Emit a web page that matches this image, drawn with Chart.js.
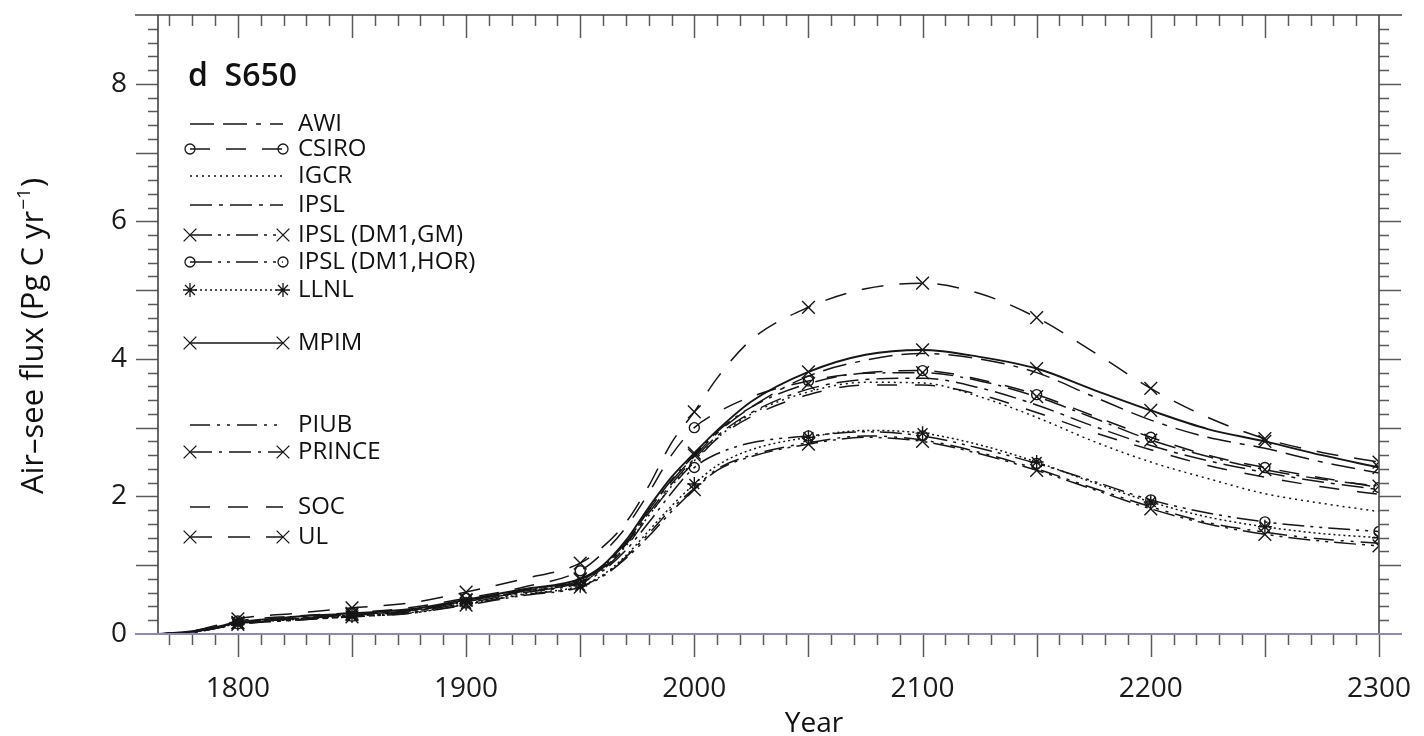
<!DOCTYPE html>
<html>
<head>
<meta charset="utf-8">
<script src="https://cdn.jsdelivr.net/npm/chart.js@4.4.1/dist/chart.umd.min.js"></script>
<style>
  html, body { margin: 0; padding: 0; background: #fff; }
  #wrap { width: 1424px; height: 736px; }
</style>
</head>
<body>
<div id="wrap"><canvas id="chart"></canvas></div>
<script>
// Air-sea CO2 flux, scenario S650, one line per ocean model
const years = [1765, 1780, 1790, 1800, 1825, 1850, 1875, 1900, 1925, 1950, 1960, 1970, 1980, 1990,
  2000, 2010, 2025, 2050, 2075, 2100, 2125, 2150, 2175, 2200, 2225, 2250, 2275, 2300];

const awi     = [0, 0.03, 0.09, 0.16, 0.23, 0.28, 0.34, 0.48, 0.63, 0.78, 0.98, 1.32, 1.80, 2.22, 2.58, 2.92, 3.30, 3.75, 3.98, 4.08, 4.00, 3.80, 3.45, 3.11, 2.86, 2.70, 2.50, 2.34];
const csiro   = [0, 0.04, 0.11, 0.19, 0.26, 0.31, 0.38, 0.52, 0.68, 0.92, 1.18, 1.55, 2.05, 2.60, 3.00, 3.22, 3.45, 3.68, 3.80, 3.83, 3.70, 3.48, 3.17, 2.86, 2.60, 2.42, 2.27, 2.13];
const igcr    = [0, 0.03, 0.09, 0.16, 0.22, 0.27, 0.33, 0.47, 0.62, 0.76, 0.95, 1.28, 1.72, 2.15, 2.52, 2.85, 3.20, 3.52, 3.66, 3.65, 3.45, 3.15, 2.80, 2.50, 2.26, 2.04, 1.90, 1.78];
const ipsl    = [0, 0.03, 0.09, 0.16, 0.22, 0.28, 0.34, 0.48, 0.62, 0.76, 0.96, 1.30, 1.76, 2.18, 2.55, 2.88, 3.22, 3.56, 3.70, 3.72, 3.58, 3.33, 3.02, 2.74, 2.52, 2.35, 2.21, 2.10];
const ipslGM  = [0, 0.02, 0.08, 0.14, 0.20, 0.25, 0.30, 0.42, 0.56, 0.68, 0.84, 1.10, 1.42, 1.78, 2.10, 2.38, 2.58, 2.76, 2.86, 2.80, 2.62, 2.38, 2.10, 1.82, 1.60, 1.45, 1.35, 1.28];
const ipslHOR = [0, 0.03, 0.09, 0.15, 0.21, 0.26, 0.32, 0.45, 0.60, 0.74, 0.92, 1.22, 1.62, 2.05, 2.42, 2.62, 2.78, 2.88, 2.94, 2.88, 2.70, 2.48, 2.22, 1.95, 1.76, 1.63, 1.55, 1.49];
const llnl    = [0, 0.03, 0.08, 0.15, 0.21, 0.26, 0.31, 0.44, 0.58, 0.70, 0.86, 1.14, 1.50, 1.86, 2.18, 2.45, 2.68, 2.86, 2.96, 2.92, 2.75, 2.50, 2.20, 1.92, 1.70, 1.56, 1.46, 1.40];
const mpim    = [0, 0.04, 0.10, 0.17, 0.25, 0.30, 0.36, 0.50, 0.65, 0.80, 1.00, 1.36, 1.84, 2.28, 2.63, 2.96, 3.38, 3.81, 4.06, 4.13, 4.03, 3.86, 3.55, 3.25, 2.98, 2.80, 2.60, 2.42];
const piub    = [0, 0.02, 0.08, 0.14, 0.20, 0.25, 0.30, 0.43, 0.57, 0.69, 0.85, 1.12, 1.46, 1.82, 2.12, 2.40, 2.60, 2.78, 2.88, 2.82, 2.64, 2.40, 2.12, 1.85, 1.62, 1.48, 1.38, 1.32];
const prince  = [0, 0.03, 0.09, 0.16, 0.23, 0.28, 0.34, 0.49, 0.64, 0.79, 0.99, 1.33, 1.80, 2.24, 2.60, 2.94, 3.30, 3.64, 3.79, 3.80, 3.68, 3.45, 3.14, 2.82, 2.58, 2.39, 2.25, 2.15];
const soc     = [0, 0.03, 0.09, 0.15, 0.22, 0.27, 0.33, 0.47, 0.61, 0.75, 0.94, 1.26, 1.72, 2.14, 2.50, 2.84, 3.16, 3.48, 3.62, 3.62, 3.48, 3.22, 2.93, 2.68, 2.45, 2.28, 2.14, 2.03];
const ul      = [0, 0.04, 0.12, 0.22, 0.30, 0.38, 0.45, 0.61, 0.80, 1.03, 1.27, 1.62, 2.15, 2.78, 3.23, 3.72, 4.28, 4.75, 5.02, 5.10, 4.95, 4.60, 4.10, 3.57, 3.15, 2.84, 2.64, 2.50];

const modelNames = ['AWI', 'CSIRO', 'IGCR', 'IPSL', 'IPSL (DM1,GM)', 'IPSL (DM1,HOR)', 'LLNL',
  'MPIM', 'PIUB', 'PRINCE', 'SOC', 'UL'];
const modelValues = [awi, csiro, igcr, ipsl, ipslGM, ipslHOR, llnl, mpim, piub, prince, soc, ul];

const xLabelYears = [1800, 1900, 2000, 2100, 2200, 2300];
const yLabelValues = [0, 2, 4, 6, 8];
const markerYears = [1800, 1850, 1900, 1950, 2000, 2050, 2100, 2150, 2200, 2250, 2300];

// line style per model, same order as modelNames
const lineStyles = [
  { dash: [24, 9, 24, 9, 5, 9] },
  { dash: [20, 16], marker: 'circle', size: 5 },
  { dash: [2, 4] },
  { dash: [22, 7, 4, 7] },
  { dash: [22, 6, 3, 6, 3, 6], marker: 'crossRot', size: 9 },
  { dash: [22, 6, 3, 6, 3, 6], marker: 'circle', size: 5 },
  { dash: [2, 3], marker: 'star', size: 7 },
  { dash: [], marker: 'crossRot', size: 9, width: 1.9 },
  { dash: [20, 7, 3, 7, 3, 7] },
  { dash: [22, 7, 3, 7], marker: 'crossRot', size: 9 },
  { dash: [20, 18] },
  { dash: [22, 16], marker: 'crossRot', size: 9 },
];
const legendRowY = [124, 149, 176, 205, 235, 262, 290, 343, 425, 452, 507, 537];

const ink = '#161616';
const font = '"Open Sans", "Noto Sans", sans-serif';

const datasets = modelNames.map((name, i) => {
  const st = lineStyles[i];
  return {
    label: name,
    data: years.map((yr, j) => ({ x: yr, y: modelValues[i][j] })),
    borderColor: ink,
    borderWidth: st.width || 1.5,
    borderDash: st.dash,
    pointStyle: st.marker || 'circle',
    pointRadius: (c) => (st.marker && markerYears.includes(years[c.dataIndex])) ? st.size : 0,
    pointHoverRadius: 0,
    pointBorderColor: ink,
    pointBackgroundColor: 'rgba(0,0,0,0)',
    pointBorderWidth: 1.4,
    cubicInterpolationMode: 'monotone',
    fill: false,
  };
});

function seg(ctx, x1, y1, x2, y2) {
  ctx.beginPath();
  ctx.moveTo(x1, y1);
  ctx.lineTo(x2, y2);
  ctx.stroke();
}

// fixed box size for an axis, without the label overhang padding
function fixBox(size) {
  return (s) => {
    if (s.isHorizontal()) s.height = size; else s.width = size;
    s.paddingLeft = s.paddingRight = s.paddingTop = s.paddingBottom = 0;
  };
}

// frame, tick marks, titles and the line legend
const decorations = {
  id: 'decorations',
  afterDraw(chart) {
    const { ctx, chartArea: a } = chart;
    const xs = chart.scales.x, ys = chart.scales.y;
    ctx.save();
    ctx.setLineDash([]);
    ctx.strokeStyle = '#5a5a5a';
    ctx.lineWidth = 1.5;
    for (let yr = 1770; yr <= 2300; yr += 10) {
      const px = Math.round(xs.getPixelForValue(yr)) + 0.5;
      const len = yr % 50 === 0 ? 23 : 11;
      seg(ctx, px, a.bottom, px, a.bottom + len);
      if (yr < 2300) seg(ctx, px, a.top, px, a.top + len);
    }
    for (let k = 1; k < 45; k++) {
      const py = Math.round(ys.getPixelForValue(k / 5)) + 0.5;
      const len = k % 5 === 0 ? 22 : 10;
      seg(ctx, a.left - len, py, a.left, py);
      seg(ctx, a.right, py, a.right + len, py);
    }

    // spines
    ctx.strokeStyle = '#444';
    ctx.lineWidth = 1.6;
    seg(ctx, a.left, a.top, a.left, a.bottom);
    seg(ctx, a.right, a.top, a.right, a.bottom);
    seg(ctx, a.left - 23, a.top, a.right + 23, a.top);
    ctx.strokeStyle = '#8a8ab4';
    ctx.lineWidth = 2;
    seg(ctx, a.left - 23, a.bottom, a.right + 23, a.bottom);

    // panel title
    ctx.fillStyle = '#111';
    ctx.textAlign = 'left';
    ctx.textBaseline = 'alphabetic';
    ctx.font = '600 32px ' + font;
    ctx.fillText('d  S650', 188, 86);

    // x axis title
    ctx.font = '28px ' + font;
    ctx.textAlign = 'center';
    ctx.fillText('Year', 814, 732);

    // y axis title with superscript
    ctx.save();
    ctx.translate(43, 337);
    ctx.rotate(-Math.PI / 2);
    const main = 'Air\u2013see flux (Pg C yr';
    const sup = '\u22121';
    ctx.font = '31px ' + font;
    const w1 = ctx.measureText(main).width;
    const w3 = ctx.measureText(')').width;
    ctx.font = '19px ' + font;
    const w2 = ctx.measureText(sup).width;
    let tx = -(w1 + w2 + w3) / 2;
    ctx.textAlign = 'left';
    ctx.font = '31px ' + font;
    ctx.fillText(main, tx, 0);
    ctx.font = '19px ' + font;
    ctx.fillText(sup, tx + w1 + 1, -13);
    ctx.font = '31px ' + font;
    ctx.fillText(')', tx + w1 + w2 + 2, 0);
    ctx.restore();

    // legend: line sample with end markers, then model name
    const x0 = 190, x1 = 283;
    chart.data.datasets.forEach((ds, i) => {
      const st = lineStyles[i];
      const ry = legendRowY[i];
      ctx.strokeStyle = ink;
      ctx.lineWidth = Math.min(ds.borderWidth, 1.4);
      ctx.setLineDash(ds.borderDash);
      seg(ctx, x0, ry, x1, ry);
      ctx.setLineDash([]);
      if (st.marker) {
        ctx.lineWidth = 1.3;
        ctx.fillStyle = 'rgba(0,0,0,0)';
        const opts = { pointStyle: st.marker, radius: st.size, borderWidth: 1.3, rotation: 0 };
        Chart.helpers.drawPoint(ctx, opts, x0, ry);
        Chart.helpers.drawPoint(ctx, opts, x1, ry);
      }
      ctx.fillStyle = '#111';
      ctx.font = '24px ' + font;
      ctx.textAlign = 'left';
      ctx.textBaseline = 'middle';
      ctx.fillText(ds.label, 298, ry);
    });
    ctx.restore();
  },
};

const tickFont = { family: font, size: 28 };

const config = {
  type: 'line',
  data: { datasets },
  options: {
    responsive: true,
    maintainAspectRatio: false,
    animation: false,
    devicePixelRatio: 1,
    layout: { padding: 0, autoPadding: false },
    plugins: { legend: { display: false }, tooltip: { enabled: false } },
    scales: {
      x: {
        type: 'linear', position: 'bottom', min: 1765, max: 2300,
        afterBuildTicks: (s) => { s.ticks = xLabelYears.map((v) => ({ value: v })); },
        afterFit: fixBox(102),
        grid: { display: false, drawTicks: false },
        border: { display: false },
        ticks: { font: tickFont, color: '#1a1a1a', padding: 38, maxRotation: 0, autoSkip: false, callback: (v) => String(v) },
      },
      xTop: {
        type: 'linear', position: 'top', min: 1765, max: 2300,
        afterFit: fixBox(15),
        grid: { display: false, drawTicks: false },
        border: { display: false },
        ticks: { display: false },
      },
      y: {
        type: 'linear', position: 'left', min: 0, max: 9,
        afterBuildTicks: (s) => { s.ticks = yLabelValues.map((v) => ({ value: v })); },
        afterFit: fixBox(158),
        grid: { display: false, drawTicks: false },
        border: { display: false },
        ticks: { font: tickFont, color: '#1a1a1a', padding: 31, callback: (v) => String(v) },
      },
      yRight: {
        type: 'linear', position: 'right', min: 0, max: 9,
        afterFit: fixBox(45),
        grid: { display: false, drawTicks: false },
        border: { display: false },
        ticks: { display: false },
      },
    },
  },
  plugins: [decorations],
};

const myChart = new Chart(document.getElementById('chart'), config);
</script>
</body>
</html>
